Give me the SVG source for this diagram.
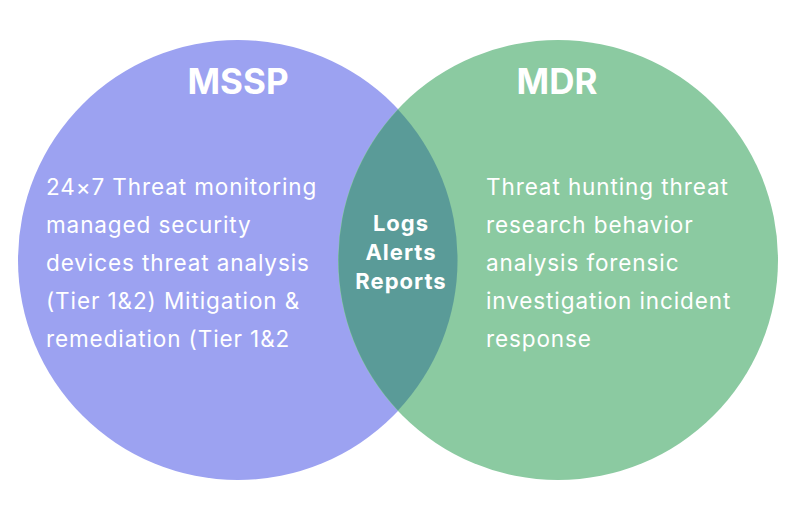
<svg xmlns="http://www.w3.org/2000/svg" width="800" height="519" viewBox="0 0 800 519">
<style>
.t{font-family:Inter,"Noto Sans","Liberation Sans",sans-serif;fill:#ffffff}
.h{font-size:35px;font-weight:700;text-anchor:middle}
.b{font-size:22.5px;font-weight:400;letter-spacing:0.9px}
.c{font-size:22px;font-weight:700;text-anchor:middle;letter-spacing:1px}
</style>
<rect width="800" height="519" fill="#ffffff"/>
<g id="mssp">
<circle cx="238" cy="260" r="220" fill="#9ca2f1"/>
</g>
<g id="mdr">
<circle cx="558" cy="260" r="220" fill="#8bcaa1"/>
</g>
<g id="overlap">
<path d="M398,109.5 A220,220 0 0 1 398,410.5 A220,220 0 0 1 398,109.5 Z" fill="#5a9b98"/>
</g>
<g id="labels">
<text class="t h" x="238" y="94">MSSP</text>
<text class="t h" x="557" y="94">MDR</text>
<text class="t b" x="46" y="195">24×7 Threat monitoring</text>
<text class="t b" x="46" y="233">managed security</text>
<text class="t b" x="46" y="271">devices threat analysis</text>
<text class="t b" x="46" y="309">(Tier 1&amp;2) Mitigation &amp;</text>
<text class="t b" x="46" y="347">remediation (Tier 1&amp;2</text>
<text class="t b" x="486" y="195">Threat hunting threat</text>
<text class="t b" x="486" y="233">research behavior</text>
<text class="t b" x="486" y="271">analysis forensic</text>
<text class="t b" x="486" y="309">investigation incident</text>
<text class="t b" x="486" y="347">response</text>
<text class="t c" x="401" y="231">Logs</text>
<text class="t c" x="401" y="260">Alerts</text>
<text class="t c" x="401" y="289">Reports</text>
</g>
</svg>
